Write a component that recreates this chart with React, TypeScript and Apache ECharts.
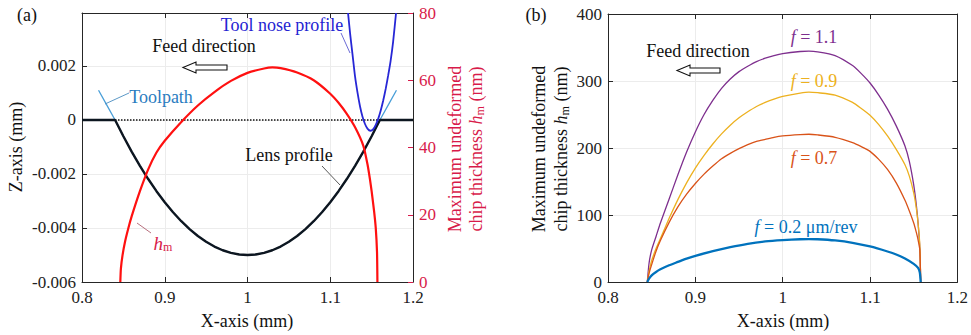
import React, { useEffect, useRef } from 'react';
import * as echarts from 'echarts';

// ---------- Panel (a) data ----------
const zeroLineX = [0.8, 1.2];
const zeroLineZ = [0, 0];

const lensX = [0.8, 0.84, 0.85, 0.86, 0.87, 0.88, 0.89, 0.9, 0.91, 0.92, 0.93, 0.94, 0.95, 0.96, 0.97, 0.98, 0.99, 1.0,
  1.01, 1.02, 1.03, 1.04, 1.05, 1.06, 1.07, 1.08, 1.09, 1.1, 1.11, 1.12, 1.13, 1.14, 1.15, 1.16, 1.2];
const lensZ = [0, 0, -0.000605, -0.001172, -0.001699, -0.002188, -0.002637, -0.003047, -0.003418, -0.00375, -0.004043,
  -0.004297, -0.004512, -0.004688, -0.004824, -0.004922, -0.00498, -0.005,
  -0.00498, -0.004922, -0.004824, -0.004688, -0.004512, -0.004297, -0.004043, -0.00375, -0.003418, -0.003047,
  -0.002637, -0.002188, -0.001699, -0.001172, -0.000605, 0, 0];

const toolpathX = [0.82, 0.83, 0.84, 0.85, 0.86, 0.87, 0.88, 0.89, 0.9, 0.91, 0.92, 0.93, 0.94, 0.95, 0.96, 0.97, 0.98, 0.99, 1.0,
  1.01, 1.02, 1.03, 1.04, 1.05, 1.06, 1.07, 1.08, 1.09, 1.1, 1.11, 1.12, 1.13, 1.14, 1.15, 1.16, 1.17, 1.18];
const toolpathZ = [0.0011, 0.00055, 0, -0.000605, -0.001172, -0.001699, -0.002188, -0.002637, -0.003047, -0.003418, -0.00375,
  -0.004043, -0.004297, -0.004512, -0.004688, -0.004824, -0.004922, -0.00498, -0.005,
  -0.00498, -0.004922, -0.004824, -0.004688, -0.004512, -0.004297, -0.004043, -0.00375, -0.003418, -0.003047,
  -0.002637, -0.002188, -0.001699, -0.001172, -0.000605, 0, 0.00055, 0.0011];

const noseX = [1.1215, 1.124, 1.127, 1.13, 1.133, 1.136, 1.139, 1.142, 1.145, 1.1485, 1.152, 1.155, 1.158, 1.161, 1.164,
  1.167, 1.17, 1.173, 1.176, 1.1795];
const noseZ = [0.00396, 0.0032, 0.0024, 0.0016, 0.001, 0.0005, 0.00012, -0.00015, -0.00032, -0.0004, -0.00034, -0.00018,
  0.00005, 0.00035, 0.00072, 0.00115, 0.00165, 0.0022, 0.0029, 0.00396];

const hmX = [0.8463, 0.847, 0.849, 0.852, 0.856, 0.86, 0.87, 0.88, 0.89, 0.9, 0.92, 0.94, 0.96, 0.98, 1.0, 1.02, 1.03, 1.04,
  1.06, 1.08, 1.1, 1.11, 1.12, 1.13, 1.14, 1.145, 1.148, 1.15, 1.153, 1.155, 1.1565, 1.157];
const hmY = [0, 4, 8, 12, 16, 19.5, 27, 33.5, 38.5, 42, 47.6, 52.5, 56.5, 59.8, 62.2, 63.5, 63.8, 63.6,
  62.3, 60, 56, 53.3, 50, 46, 40.5, 35, 30.5, 27, 21, 16, 9, 0];

// ---------- Panel (b) data ----------
const f11X = [0.845, 0.847, 0.85, 0.855, 0.86, 0.87, 0.88, 0.89, 0.9, 0.91, 0.92, 0.93, 0.94, 0.95, 0.96, 0.97, 0.98, 0.99,
  1.0, 1.02, 1.03, 1.04, 1.06, 1.08, 1.09, 1.1, 1.11, 1.12, 1.13, 1.14, 1.145, 1.15, 1.153, 1.155, 1.157, 1.158];
const f11Y = [0, 28, 48, 68, 88, 124, 160, 194, 224, 250, 271, 289, 303, 314, 322, 329, 334, 338,
  341, 344, 344.5, 343.5, 338, 323, 311, 297, 279, 258, 233, 203, 180, 145, 115, 88, 50, 0];

const f09X = [0.845, 0.847, 0.85, 0.855, 0.86, 0.87, 0.88, 0.89, 0.9, 0.91, 0.92, 0.93, 0.94, 0.95, 0.96, 0.97, 0.98, 0.99,
  1.0, 1.02, 1.03, 1.04, 1.06, 1.08, 1.09, 1.1, 1.11, 1.12, 1.13, 1.14, 1.145, 1.15, 1.153, 1.155, 1.157, 1.158];
const f09Y = [0, 16, 32, 50, 65, 95, 123, 148, 170, 189, 206, 221, 234, 245, 254, 262, 268, 273,
  277, 282, 283.5, 282.5, 279, 268, 259, 249, 235, 218, 198, 175, 158, 133, 110, 88, 55, 0];

const f07X = [0.845, 0.847, 0.85, 0.855, 0.86, 0.87, 0.88, 0.89, 0.9, 0.91, 0.92, 0.93, 0.94, 0.95, 0.96, 0.97, 0.98, 0.99,
  1.0, 1.02, 1.03, 1.04, 1.06, 1.08, 1.09, 1.1, 1.11, 1.12, 1.13, 1.14, 1.145, 1.15, 1.153, 1.155, 1.157, 1.158];
const f07Y = [0, 13, 26, 46, 62, 89, 112, 131, 147, 161, 173, 184, 192, 199, 205, 210, 213, 216,
  218, 220, 220.5, 219.5, 216, 208, 202, 195, 183, 168, 148, 122, 106, 88, 74, 63, 48, 0];

const f02X = [0.845, 0.847, 0.85, 0.855, 0.86, 0.87, 0.88, 0.89, 0.9, 0.92, 0.94, 0.96, 0.98, 1.0, 1.02, 1.03, 1.04, 1.06, 1.08,
  1.1, 1.12, 1.13, 1.14, 1.15, 1.155, 1.157, 1.158];
const f02Y = [0, 5, 10, 15, 19, 25, 30, 35, 39, 46, 52, 57, 60.5, 62.5, 63.8, 64, 63.8, 62, 58.5,
  53, 45.5, 41, 35, 27, 21, 14, 0];

const xTicks = [0.8, 0.9, 1.0, 1.1, 1.2];

const zip = (xs: number[], ys: number[]) => xs.map((x, i) => [x, ys[i]]);

const SERIF = '"Liberation Serif", "Times New Roman", serif';
const AX = '#262626';
const RED_TXT = '#d81b4a';

const xLabelFmt = (v: number) => String(parseFloat(v.toFixed(1)));

function xAxisCfg(gridIndex: number, pos: 'bottom' | 'top', labels: boolean, grid: boolean) {
  return {
    type: 'value', gridIndex, position: pos, min: xTicks[0], max: xTicks[xTicks.length - 1], interval: 0.1,
    axisLine: { show: true, onZero: false, lineStyle: { color: AX, width: 1 } },
    axisTick: { show: true, inside: true, length: 5, lineStyle: { color: AX } },
    axisLabel: { show: labels, color: '#222', fontSize: 17, fontFamily: SERIF, margin: 7, formatter: xLabelFmt },
    splitLine: { show: grid, lineStyle: { color: '#ececec', width: 1 } },
  };
}

function textEl(x: number, y: number, text: string, color: string, size = 18, rotation = 0, rich?: any) {
  return {
    type: 'text', x, y, rotation, z: 100,
    style: {
      text, fill: color, fontSize: size, fontFamily: SERIF, align: 'center', verticalAlign: 'middle',
      rich: rich || undefined,
    },
  };
}

function richText(color: string, baseSize = 18) {
  return {
    n: { fill: color, fontFamily: SERIF, fontSize: baseSize, lineHeight: 20 },
    i: { fill: color, fontStyle: 'italic', fontFamily: SERIF, fontSize: baseSize, lineHeight: 20 },
    s: { fill: color, fontFamily: SERIF, fontSize: 12, lineHeight: 12, verticalAlign: 'bottom' },
  };
}

function arrow(tipX: number, cy: number, len: number) {
  const head = 13;
  return {
    type: 'polygon', z: 100,
    shape: {
      points: [
        [tipX, cy], [tipX + head, cy - 5.5], [tipX + head, cy - 2.5], [tipX + len, cy - 2.5],
        [tipX + len, cy + 2.5], [tipX + head, cy + 2.5], [tipX + head, cy + 5.5],
      ],
    },
    style: { fill: '#fff', stroke: '#111', lineWidth: 1.1 },
  };
}

function leader(x1: number, y1: number, x2: number, y2: number, color: string) {
  return { type: 'line', z: 100, shape: { x1, y1, x2, y2 }, style: { stroke: color, lineWidth: 0.9 } };
}

function lineSeries(data: number[][], color: string, width: number, xi: number, yi: number, extra: any = {}) {
  return {
    type: 'line', data, xAxisIndex: xi, yAxisIndex: yi, showSymbol: false, symbol: 'none',
    lineStyle: { color, width, ...(extra.lineStyle || {}) },
    smooth: extra.smooth || false, z: extra.z || 2,
    silent: true,
  };
}

export default function App() {
  const ref = useRef<HTMLDivElement>(null);
  useEffect(() => {
    const chart = echarts.init(ref.current!, null, { renderer: 'svg' });
    const option: any = {
      animation: false,
      backgroundColor: '#ffffff',
      grid: [
        { left: 82, top: 13, width: 331, height: 269 },
        { left: 608, top: 14, width: 351, height: 268 },
      ],
      xAxis: [
        xAxisCfg(0, 'bottom', true, true),
        xAxisCfg(0, 'top', false, false),
        xAxisCfg(1, 'bottom', true, true),
        xAxisCfg(1, 'top', false, false),
      ],
      yAxis: [
        {
          type: 'value', gridIndex: 0, position: 'left', min: -0.006, max: 0.00396, interval: 0.002,
          axisLine: { show: true, lineStyle: { color: AX } },
          axisTick: { show: true, inside: true, length: 5, lineStyle: { color: AX } },
          axisLabel: {
            color: '#222', fontSize: 17, fontFamily: SERIF, margin: 6, showMaxLabel: false,
            formatter: (v: number) => (Math.abs(v) < 1e-9 ? '0' : v.toFixed(3)),
          },
          splitLine: { show: true, lineStyle: { color: '#ececec' } },
        },
        {
          type: 'value', gridIndex: 0, position: 'right', min: 0, max: 80, interval: 20,
          axisLine: { show: true, lineStyle: { color: AX } },
          axisTick: { show: true, inside: true, length: 5, lineStyle: { color: RED_TXT } },
          axisLabel: { color: RED_TXT, fontSize: 17, fontFamily: SERIF, margin: 6 },
          splitLine: { show: false },
        },
        {
          type: 'value', gridIndex: 1, position: 'left', min: 0, max: 400, interval: 100,
          axisLine: { show: true, lineStyle: { color: AX } },
          axisTick: { show: true, inside: true, length: 5, lineStyle: { color: AX } },
          axisLabel: { color: '#222', fontSize: 17, fontFamily: SERIF, margin: 6 },
          splitLine: { show: true, lineStyle: { color: '#ececec' } },
        },
        {
          type: 'value', gridIndex: 1, position: 'right', min: 0, max: 400, interval: 100,
          axisLine: { show: true, lineStyle: { color: AX } },
          axisTick: { show: true, inside: true, length: 5, lineStyle: { color: AX } },
          axisLabel: { show: false },
          splitLine: { show: false },
        },
      ],
      series: [
        lineSeries(zip(zeroLineX, zeroLineZ), '#111', 1.5, 0, 0, { lineStyle: { type: [1.5, 1.5] } }),
        lineSeries(zip(toolpathX, toolpathZ), '#4a9fd8', 1.3, 0, 0, { z: 3 }),
        lineSeries(zip(lensX, lensZ), '#0d1620', 2.4, 0, 0, { z: 4 }),
        lineSeries(zip(noseX, noseZ), '#2727d6', 1.8, 0, 0, { smooth: 0.2, z: 5 }),
        lineSeries(zip(hmX, hmY), '#ff1010', 2.2, 0, 1, { z: 6, smooth: 0.2 }),
        lineSeries(zip(f11X, f11Y), '#7E2F8E', 1.3, 2, 2, { z: 3, smooth: 0.2 }),
        lineSeries(zip(f09X, f09Y), '#EDB120', 1.3, 2, 2, { z: 3, smooth: 0.2 }),
        lineSeries(zip(f07X, f07Y), '#D95319', 1.3, 2, 2, { z: 3, smooth: 0.2 }),
        lineSeries(zip(f02X, f02Y), '#0072BD', 2.3, 2, 2, { z: 4, smooth: 0.2 }),
      ],
      graphic: [
        textEl(27, 15, '(a)', '#111', 18),
        textEl(536, 15, '(b)', '#111', 18),
        // axis names
        textEl(247, 321, 'X-axis (mm)', '#111', 18),
        textEl(783, 321, 'X-axis (mm)', '#111', 18),
        textEl(16, 147, 'Z-axis (mm)', '#111', 18, Math.PI / 2),
        textEl(455, 149, 'Maximum undeformed', RED_TXT, 18, Math.PI / 2),
        textEl(476, 149, '{n|chip thickness }{i|h}{s|m}{n| (nm)}', RED_TXT, 18, Math.PI / 2, richText(RED_TXT)),
        textEl(539, 149, 'Maximum undeformed', '#111', 18, Math.PI / 2),
        textEl(561, 149, '{n|chip thickness }{i|h}{s|m}{n| (nm)}', '#111', 18, Math.PI / 2, richText('#111')),
        // panel (a) annotations
        textEl(282, 25, 'Tool nose profile', '#2323d2', 18),
        leader(341, 33, 350, 53, '#5a5ad0'),
        textEl(204, 46, 'Feed direction', '#111', 18),
        arrow(183, 67.5, 44),
        textEl(161, 97, 'Toolpath', '#2a7cc0', 18),
        leader(105, 104, 129, 93, '#4a8cc0'),
        textEl(289, 155, 'Lens profile', '#111', 18),
        leader(322, 166, 340, 185, '#444'),
        textEl(163, 243, '{i|h}{s|m}', RED_TXT, 18, 0, richText(RED_TXT, 19)),
        leader(137, 223, 151, 233, '#b06070'),
        // panel (b) annotations
        textEl(698, 51, 'Feed direction', '#111', 18),
        arrow(677, 70.5, 43),
        textEl(814, 37, '{i|f}{n| = 1.1}', '#7E2F8E', 18, 0, richText('#7E2F8E')),
        textEl(814, 81, '{i|f}{n| = 0.9}', '#EDB120', 18, 0, richText('#EDB120')),
        textEl(814, 158, '{i|f}{n| = 0.7}', '#D95319', 18, 0, richText('#D95319')),
        textEl(806, 227, '{i|f}{n| = 0.2 μm/rev}', '#0072BD', 18, 0, richText('#0072BD')),
      ],
    };
    chart.setOption(option);
    return () => chart.dispose();
  }, []);
  return <div ref={ref} style={{ position: 'absolute', left: 0, top: 0, width: 971, height: 335 }} />;
}
